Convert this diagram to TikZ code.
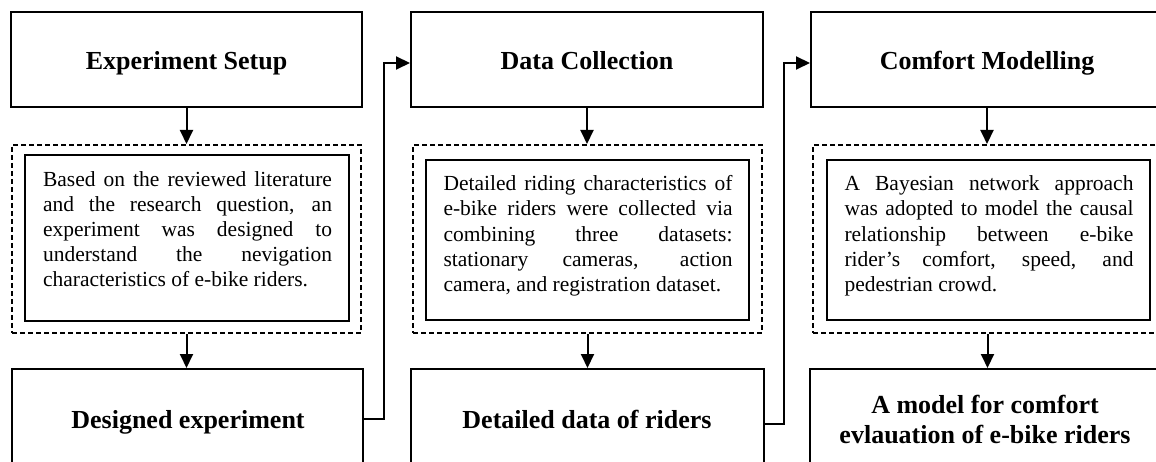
\documentclass[tikz,border=0pt]{standalone}
\usepackage{fontspec}
\setmainfont{Liberation Serif}
\usetikzlibrary{arrows.meta}
\newcommand\bodysetup{\hyphenpenalty=10000\relax\tolerance=10000\relax\strut}
\begin{document}
\begin{tikzpicture}[x=1pt,y=-1pt,line width=2pt,
  topbox/.style={draw,rectangle,inner sep=0pt,minimum height=95pt,text height=24pt,text depth=3pt,font=\fontsize{26}{30}\selectfont\bfseries},
  dashbox/.style={draw,rectangle,inner sep=0pt,dash pattern=on 5pt off 3pt,minimum height=188pt,minimum width=349pt},
  innerbox/.style={draw,rectangle,inner sep=0pt,line width=2.4pt},
  bodytext/.style={inner sep=0pt,text width=289pt,align=justify,
    font=\fontsize{21.5}{25.1}\selectfont},
  botbox/.style={draw,rectangle,inner sep=0pt,minimum height=131pt},
  bottext/.style={inner sep=0pt,align=center,font=\fontsize{26}{30}\selectfont\bfseries},
  arr/.style={-{Triangle[length=14pt,width=13pt]}}
]
\useasboundingbox (0,0) rectangle (1156,462);
\clip (0,0) rectangle (1156,462);

% column 1
\node[topbox,minimum width=351pt] (t1) at (186.5,59.5) {Experiment Setup};
\node[dashbox] (d1) at (186.5,239) {};
\node[innerbox,minimum width=324pt,minimum height=166pt] (i1) at (187,238) {};
\node[bodytext] (x1) at (187.5,231.4) {\bodysetup Based on the reviewed literature\linebreak and the research question, an\linebreak experiment was designed to\linebreak understand the nevigation\linebreak characteristics of e-bike riders.\strut};
\node[botbox,minimum width=351pt] (b1) at (187.5,434.5) {};
\node[bottext,anchor=base] (y1) at (188,428) {Designed experiment};

% column 2
\node[topbox,minimum width=352pt] (t2) at (587,59.5) {Data Collection};
\node[dashbox] (d2) at (587.5,239) {};
\node[innerbox,minimum width=323pt,minimum height=160pt] (i2) at (587.5,240) {};
\node[bodytext] (x2) at (588,236) {\bodysetup Detailed riding characteristics of\linebreak e-bike riders were collected via\linebreak combining three datasets:\linebreak stationary cameras, action\linebreak camera, and registration dataset.\strut};
\node[botbox,minimum width=353pt] (b2) at (587.5,434.5) {};
\node[bottext,anchor=base] (y2) at (587,428) {Detailed data of riders};

% column 3
\node[topbox,minimum width=352pt] (t3) at (987,59.5) {Comfort Modelling};
\node[dashbox] (d3) at (987.5,239) {};
\node[innerbox,minimum width=323pt,minimum height=160pt] (i3) at (988.5,240) {};
\node[bodytext] (x3) at (989,236) {\bodysetup A Bayesian network approach\linebreak was adopted to model the causal\linebreak relationship between e-bike\linebreak rider’s comfort, speed, and\linebreak pedestrian crowd.\strut};
\node[botbox,minimum width=353pt] (b3) at (986.5,434.5) {};
\node[bottext] (y3) at (985,420) {A model for comfort\\evlauation of e-bike riders};

% vertical arrows
\draw[arr] (t1.south) -- (d1.north);
\draw[arr] (d1.south) -- (d1.south |- b1.north);
\draw[arr] (t2.south) -- (t2.south |- d2.north);
\draw[arr] (d2.south) -- (d2.south |- b2.north);
\draw[arr] (t3.south) -- (t3.south |- d3.north);
\draw[arr] (d3.south) -- (d3.south |- b3.north);

% column connectors
\draw[arr] ([yshift=15.5pt]b1.east) -- ++(20,0) |- ([yshift=-3.5pt]t2.west);
\draw[arr] ([yshift=10.5pt]b2.east) -- ++(19,0) |- ([yshift=-3.5pt]t3.west);
\end{tikzpicture}
\end{document}
